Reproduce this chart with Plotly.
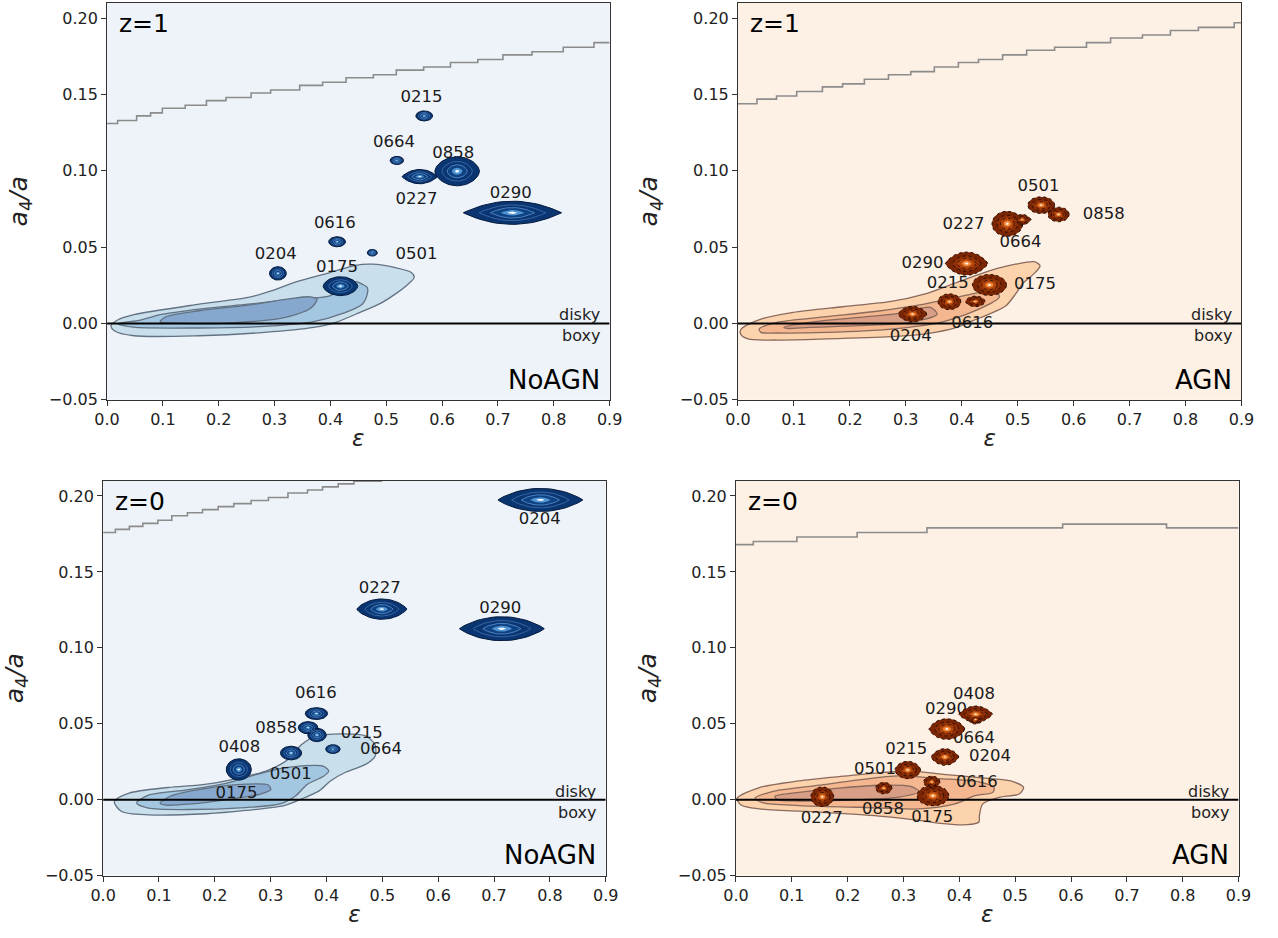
import numpy as np
import plotly.graph_objects as go

FONT = "DejaVu Sans"

# ---------------- data: axes ----------------
X_TICKS = [0.0, 0.1, 0.2, 0.3, 0.4, 0.5, 0.6, 0.7, 0.8, 0.9]
Y_TICKS = [-0.05, 0.0, 0.05, 0.10, 0.15, 0.20]

# ---------------- data: upper boundary (staircase) ----------------
TL_BND_X = [0.0, 0.019, 0.053, 0.078, 0.099, 0.140, 0.178, 0.213, 0.258, 0.293, 0.345, 0.386,
            0.428, 0.477, 0.518, 0.567, 0.615, 0.664, 0.709, 0.761, 0.817, 0.872, 0.9]
TL_BND_Y = [0.131, 0.133, 0.136, 0.138, 0.141, 0.143, 0.146, 0.148, 0.151, 0.153, 0.156, 0.158,
            0.161, 0.163, 0.166, 0.168, 0.171, 0.173, 0.176, 0.178, 0.181, 0.184, 0.184]
TR_BND_X = [0.0, 0.034, 0.069, 0.105, 0.151, 0.187, 0.226, 0.269, 0.309, 0.351, 0.394, 0.430,
            0.473, 0.516, 0.566, 0.623, 0.666, 0.723, 0.773, 0.823, 0.887, 0.9]
TR_BND_Y = [0.144, 0.147, 0.149, 0.152, 0.155, 0.157, 0.160, 0.163, 0.165, 0.168, 0.171, 0.173,
            0.176, 0.179, 0.181, 0.184, 0.187, 0.189, 0.192, 0.194, 0.197, 0.197]
BL_BND_X = [0.0, 0.022, 0.047, 0.071, 0.098, 0.123, 0.151, 0.178, 0.206, 0.234, 0.265, 0.296,
            0.331, 0.366, 0.393, 0.421, 0.449, 0.50]
BL_BND_Y = [0.176, 0.178, 0.180, 0.182, 0.184, 0.187, 0.189, 0.191, 0.193, 0.195, 0.197, 0.199,
            0.202, 0.204, 0.206, 0.208, 0.2098, 0.2098]
BR_BND_X = [0.0, 0.031, 0.109, 0.217, 0.342, 0.585, 0.771, 0.9]
BR_BND_Y = [0.168, 0.170, 0.173, 0.176, 0.179, 0.1815, 0.179, 0.179]

# ---------------- data: population density contours (eps, a4/a) ----------------
TL_KDE_OUTER = [(0.007, -0.0015), (0.013, -0.0048), (0.048, -0.0081), (0.165, -0.0081), (0.282, -0.0059),
                (0.370, -0.0026), (0.410, 0.0007), (0.445, 0.006), (0.487, 0.0126), (0.516, 0.0192),
                (0.539, 0.0257), (0.550, 0.0301), (0.545, 0.0334), (0.516, 0.0366), (0.475, 0.0388),
                (0.445, 0.0381), (0.399, 0.0333), (0.340, 0.0274), (0.294, 0.0213), (0.253, 0.0170),
                (0.165, 0.0126), (0.048, 0.0057), (0.019, 0.0022)]
TL_KDE_MID = [(0.019, -0.0003), (0.047, -0.0025), (0.165, -0.003), (0.282, -0.002), (0.370, 0.0011),
              (0.422, 0.0065), (0.457, 0.0126), (0.466, 0.0192), (0.466, 0.0235), (0.457, 0.0257),
              (0.445, 0.0274), (0.399, 0.0181), (0.340, 0.0159), (0.253, 0.0126), (0.165, 0.0094),
              (0.095, 0.0057), (0.060, 0.0022)]
TL_KDE_IN = [(0.095, 0.0011), (0.136, 0.0), (0.223, 0.0004), (0.311, 0.0033), (0.364, 0.0098),
             (0.376, 0.0157), (0.364, 0.0174), (0.329, 0.0163), (0.253, 0.0120), (0.165, 0.0083),
             (0.106, 0.0044)]

TR_KDE_OUTER = [(0.0047, -0.0070), (0.0058, -0.0037), (0.041, 0.0028), (0.099, 0.0072), (0.187, 0.0109),
                (0.274, 0.0144), (0.333, 0.0192), (0.391, 0.0268), (0.449, 0.0344), (0.496, 0.0388),
                (0.531, 0.0403), (0.540, 0.0377), (0.531, 0.0333), (0.508, 0.0257), (0.496, 0.0192),
                (0.479, 0.0116), (0.449, 0.0061), (0.420, 0.0018), (0.391, -0.0026), (0.333, -0.0070),
                (0.274, -0.0087), (0.158, -0.0102), (0.070, -0.0109), (0.018, -0.0102)]
TR_KDE_MID = [(0.038, -0.0037), (0.070, 0.0007), (0.158, 0.0044), (0.245, 0.0078), (0.333, 0.0126),
              (0.403, 0.0181), (0.461, 0.0214), (0.467, 0.0170), (0.449, 0.0126), (0.409, 0.0061),
              (0.362, 0.0007), (0.274, -0.0037), (0.158, -0.0059), (0.070, -0.0063), (0.041, -0.0059)]
TR_KDE_IN = [(0.082, -0.0026), (0.128, 0.0007), (0.216, 0.0039), (0.292, 0.0068), (0.344, 0.0105),
             (0.356, 0.0061), (0.309, 0.0007), (0.216, -0.0015), (0.128, -0.0026), (0.088, -0.0033)]

BL_KDE_OUTER = [(0.020, -0.0013), (0.0465, 0.0043), (0.116, 0.0080), (0.185, 0.0102), (0.255, 0.0152),
                (0.296, 0.0195), (0.331, 0.0264), (0.355, 0.0361), (0.380, 0.0416), (0.428, 0.0433),
                (0.470, 0.0420), (0.487, 0.0361), (0.487, 0.0286), (0.470, 0.0232), (0.435, 0.0182),
                (0.407, 0.0123), (0.387, 0.0058), (0.352, 0.0), (0.324, -0.0039), (0.255, -0.0071),
                (0.185, -0.0093), (0.081, -0.0100), (0.033, -0.0078)]
BL_KDE_MID = [(0.060, -0.0022), (0.081, 0.0030), (0.151, 0.0065), (0.220, 0.0108), (0.269, 0.0160),
              (0.324, 0.0210), (0.394, 0.0221), (0.404, 0.0188), (0.394, 0.0152), (0.366, 0.0102),
              (0.345, 0.0026), (0.317, -0.0028), (0.255, -0.0052), (0.151, -0.0065), (0.081, -0.0056)]
BL_KDE_IN = [(0.102, -0.0022), (0.123, 0.0026), (0.185, 0.0074), (0.255, 0.0102), (0.296, 0.0097),
             (0.300, 0.0065), (0.282, 0.0037), (0.227, 0.0004), (0.158, -0.0028), (0.109, -0.0035)]

BR_KDE_OUTER = [(0.002, 0.0009), (0.042, 0.0080), (0.113, 0.0123), (0.185, 0.0152), (0.256, 0.0177),
                (0.313, 0.0188), (0.371, 0.0167), (0.435, 0.0145), (0.492, 0.0123), (0.515, 0.0080),
                (0.507, 0.0037), (0.471, 0.0015), (0.442, -0.0028), (0.436, -0.0104), (0.435, -0.0147),
                (0.414, -0.0165), (0.371, -0.0158), (0.328, -0.0136), (0.256, -0.0108), (0.149, -0.0082),
                (0.042, -0.0061), (0.009, -0.0035)]
BR_KDE_MID = [(0.034, 0.0009), (0.063, 0.0052), (0.149, 0.0095), (0.220, 0.0130), (0.292, 0.0156),
              (0.363, 0.0139), (0.435, 0.0117), (0.462, 0.0080), (0.460, 0.0048), (0.428, 0.0026),
              (0.392, -0.0028), (0.328, -0.0061), (0.220, -0.0050), (0.113, -0.0039), (0.049, -0.0022)]
BR_KDE_IN = [(0.070, 0.0022), (0.113, 0.0048), (0.185, 0.0076), (0.256, 0.0095), (0.313, 0.0087),
             (0.328, 0.0052), (0.292, 0.0017), (0.220, 0.0), (0.113, -0.0009), (0.074, 0.0)]

# ---------------- data: individual galaxies (centre, spread, shape) ----------------
TL_ID = ["0215", "0664", "0227", "0858", "0290", "0616", "0501", "0204", "0175"]
TL_EPS = [0.568, 0.519, 0.560, 0.627, 0.726, 0.412, 0.475, 0.306, 0.418]
TL_A4 = [0.136, 0.1068, 0.0962, 0.0997, 0.0725, 0.0535, 0.0463, 0.0328, 0.0244]
TL_SEPS = [0.015, 0.012, 0.032, 0.040, 0.088, 0.015, 0.009, 0.015, 0.031]
TL_SA4 = [0.0033, 0.0027, 0.0047, 0.0095, 0.0076, 0.0033, 0.0022, 0.0044, 0.0062]
TL_PEAK = [0.5, 0.5, 0.9, 0.6, 1.0, 0.5, 0.5, 0.5, 0.6]
TL_LAB = ["0215", "0664", "0227", "0858", "0290", "0616", "0501", "0204", "0175"]
TL_LAB_EPS = [0.563, 0.514, 0.554, 0.620, 0.723, 0.408, 0.554, 0.302, 0.412]
TL_LAB_A4 = [0.148, 0.118, 0.0807, 0.111, 0.085, 0.0655, 0.0452, 0.0452, 0.0366]

TR_ID = ["0501", "0858", "0227", "0664", "0290", "0175", "0215", "0616", "0204"]
TR_EPS = [0.542, 0.573, 0.4815, 0.508, 0.4086, 0.4495, 0.378, 0.4243, 0.312]
TR_A4 = [0.0775, 0.0714, 0.0653, 0.068, 0.0392, 0.0252, 0.0142, 0.0144, 0.0061]
TR_SEPS = [0.024, 0.019, 0.0275, 0.016, 0.038, 0.0305, 0.0205, 0.0175, 0.0255]
TR_SA4 = [0.0055, 0.0048, 0.0082, 0.0035, 0.0076, 0.0069, 0.0052, 0.0035, 0.0051]
TR_PEAK = [0.5, 0.5, 0.5, 0.9, 0.8, 0.5, 0.5, 0.6, 0.7]
TR_LAB = ["0501", "0858", "0227", "0664", "0290", "0215", "0175", "0616", "0204"]
TR_LAB_EPS = [0.537, 0.654, 0.403, 0.505, 0.330, 0.375, 0.531, 0.419, 0.309]
TR_LAB_A4 = [0.0892, 0.0714, 0.0644, 0.0529, 0.0392, 0.0261, 0.0252, -0.0004, -0.0087]

BL_ID = ["0204", "0227", "0290", "0616", "0858", "0215", "0664", "0501", "0408"]
BL_EPS = [0.783, 0.499, 0.714, 0.382, 0.367, 0.383, 0.4115, 0.3365, 0.243]
BL_A4 = [0.1974, 0.1255, 0.1126, 0.0567, 0.0474, 0.0426, 0.0333, 0.0307, 0.0199]
BL_SEPS = [0.076, 0.045, 0.076, 0.020, 0.0175, 0.0165, 0.013, 0.019, 0.0225]
BL_SA4 = [0.0076, 0.0067, 0.0079, 0.0039, 0.004, 0.0044, 0.0029, 0.0045, 0.007]
BL_PEAK = [0.9, 0.8, 0.9, 0.5, 0.5, 0.5, 0.5, 0.5, 0.5]
BL_LAB = ["0204", "0227", "0290", "0616", "0858", "0215", "0664", "0501", "0408", "0175"]
BL_LAB_EPS = [0.782, 0.4955, 0.711, 0.381, 0.310, 0.463, 0.4975, 0.336, 0.244, 0.239]
BL_LAB_A4 = [0.184, 0.1385, 0.1255, 0.0697, 0.0465, 0.0433, 0.0325, 0.0162, 0.0344, 0.0041]

BR_ID = ["0408", "0664", "0290", "0204", "0215", "0858", "0616", "0175", "0227"]
BR_EPS = [0.4293, 0.429, 0.3777, 0.3742, 0.3076, 0.2647, 0.3506, 0.3527, 0.1545]
BR_A4 = [0.0563, 0.0528, 0.0465, 0.0281, 0.0195, 0.0076, 0.0117, 0.0026, 0.0019]
BR_SEPS = [0.0305, 0.012, 0.032, 0.025, 0.023, 0.0145, 0.0145, 0.0285, 0.0205]
BR_SA4 = [0.0054, 0.003, 0.0068, 0.0055, 0.0058, 0.0038, 0.0038, 0.0067, 0.0065]
BR_PEAK = [0.9, 0.5, 0.7, 0.8, 0.6, 0.5, 0.5, 0.5, 0.5]
BR_LAB = ["0408", "0290", "0664", "0215", "0204", "0501", "0616", "0858", "0175", "0227"]
BR_LAB_EPS = [0.4264, 0.3763, 0.4264, 0.3048, 0.455, 0.249, 0.4314, 0.2633, 0.3513, 0.1538]
BR_LAB_A4 = [0.0690, 0.0593, 0.0398, 0.0325, 0.0281, 0.0195, 0.0113, -0.0067, -0.0121, -0.0126]

PANEL_Z = ["z=1", "z=1", "z=0", "z=0"]
PANEL_MODEL = ["NoAGN", "AGN", "NoAGN", "AGN"]

# ---------------- styles ----------------
BLUE = dict(bg="#eef3fa",
            kde=["#c9dfec", "#a3c6e1", "#86a8cf"], kde_line="#627282",
            blob=[("#0b3571", "#031a3d", "solid", 1.0), ("rgba(0,0,0,0)", "#3d72b3", "solid", 0.8),
                  ("#0f4282", "#5a93cf", "solid", 0.8), ("#4f93d2", None, None, 0), ("#f2fafe", None, None, 0)])
ORANGE = dict(bg="#fdf0e4",
              kde=["#fcd3ad", "#f4b78f", "#d99e86"], kde_line="#8a6a5c",
              blob=[("#7a2605", "#240800", "dot", 1.0), ("#8f3007", "#240800", "dot", 0.9),
                    ("#b4460c", "#3a1000", "dot", 0.9), ("#ef8a3c", None, None, 0), ("#fff1dd", None, None, 0)])
BLOB_SCALE = [1.0, 0.68, 0.45, 0.24, 0.1]

DOMAINS = [
    ([96 / 1278, 609 / 1278], [1 - 404 / 938, 1 - 3 / 938]),
    ([740 / 1278, 1254 / 1278], [1 - 404 / 938, 1 - 3 / 938]),
    ([92 / 1278, 605 / 1278], [1 - 885 / 938, 1 - 486 / 938]),
    ([738 / 1278, 1251 / 1278], [1 - 885 / 938, 1 - 486 / 938]),
]

panels = [
    dict(bx=TL_BND_X, by=TL_BND_Y, kde=[TL_KDE_OUTER, TL_KDE_MID, TL_KDE_IN],
         eps=TL_EPS, a4=TL_A4, se=TL_SEPS, sa=TL_SA4, pk=TL_PEAK,
         lab=TL_LAB, lx=TL_LAB_EPS, ly=TL_LAB_A4, sty=BLUE),
    dict(bx=TR_BND_X, by=TR_BND_Y, kde=[TR_KDE_OUTER, TR_KDE_MID, TR_KDE_IN],
         eps=TR_EPS, a4=TR_A4, se=TR_SEPS, sa=TR_SA4, pk=TR_PEAK,
         lab=TR_LAB, lx=TR_LAB_EPS, ly=TR_LAB_A4, sty=ORANGE),
    dict(bx=BL_BND_X, by=BL_BND_Y, kde=[BL_KDE_OUTER, BL_KDE_MID, BL_KDE_IN],
         eps=BL_EPS, a4=BL_A4, se=BL_SEPS, sa=BL_SA4, pk=BL_PEAK,
         lab=BL_LAB, lx=BL_LAB_EPS, ly=BL_LAB_A4, sty=BLUE),
    dict(bx=BR_BND_X, by=BR_BND_Y, kde=[BR_KDE_OUTER, BR_KDE_MID, BR_KDE_IN],
         eps=BR_EPS, a4=BR_A4, se=BR_SEPS, sa=BR_SA4, pk=BR_PEAK,
         lab=BR_LAB, lx=BR_LAB_EPS, ly=BR_LAB_A4, sty=ORANGE),
]


def blob_outline(cx, cy, hx, hy, peak, s, n=64):
    t = np.linspace(0, 2 * np.pi, n)
    st = np.sin(t)
    x = cx + s * hx * np.cos(t)
    y = cy + s * hy * np.sign(st) * np.abs(st) ** (2 * peak)
    return list(x) + [None], list(y) + [None]


fig = go.Figure()
layout_axes = {}
shapes = []
annotations = []

for i, p in enumerate(panels):
    k = "" if i == 0 else str(i + 1)
    xa, ya = "x" + k, "y" + k
    sty = p["sty"]
    xd, yd = DOMAINS[i]
    layout_axes["xaxis" + k] = dict(
        domain=xd, anchor=ya, range=[0, 0.9], tickvals=X_TICKS, tickformat=".1f",
        showgrid=False, zeroline=False, showline=True, mirror=True, linecolor="#333",
        linewidth=1, ticks="outside", ticklen=5, tickcolor="#333",
        tickfont=dict(family=FONT, size=16, color="#222"),
        title=dict(text="<i>ε</i>", font=dict(family=FONT, size=23, color="#222"), standoff=2))
    layout_axes["yaxis" + k] = dict(
        domain=yd, anchor=xa, range=[-0.05, 0.21], tickvals=Y_TICKS, tickformat=".2f",
        showgrid=False, zeroline=False, showline=True, mirror=True, linecolor="#333",
        linewidth=1, ticks="outside", ticklen=5, tickcolor="#333",
        tickfont=dict(family=FONT, size=16, color="#222"),
        title=dict(text="<i>a</i><sub>4</sub><i>/a</i>", font=dict(family=FONT, size=25, color="#222"),
                   standoff=14))
    shapes.append(dict(type="rect", xref=xa + " domain", yref=ya + " domain", x0=0, x1=1, y0=0, y1=1,
                       fillcolor=sty["bg"], line=dict(width=0), layer="below"))

    # population density contours
    for lvl, poly in enumerate(p["kde"]):
        px = [q[0] for q in poly] + [poly[0][0]]
        py = [q[1] for q in poly] + [poly[0][1]]
        fig.add_trace(go.Scatter(x=px, y=py, xaxis=xa, yaxis=ya, mode="lines", fill="toself",
                                 fillcolor=sty["kde"][lvl], line=dict(color=sty["kde_line"], width=1.3,
                                                                       shape="spline", smoothing=0.8),
                                 hoverinfo="skip"))
    # staircase upper boundary
    fig.add_trace(go.Scatter(x=p["bx"], y=p["by"], xaxis=xa, yaxis=ya, mode="lines",
                             line=dict(color="#8c8c8c", width=1.6, shape="hv"), hoverinfo="skip"))
    # disky / boxy divider
    fig.add_trace(go.Scatter(x=[0, 0.9], y=[0, 0], xaxis=xa, yaxis=ya, mode="lines",
                             line=dict(color="black", width=2), hoverinfo="skip"))
    # galaxy labels (beneath the galaxy contours)
    fig.add_trace(go.Scatter(x=p["lx"], y=p["ly"], text=p["lab"], xaxis=xa, yaxis=ya, mode="text",
                             textposition="middle center",
                             textfont=dict(family=FONT, size=16.5, color="#1a1a1a"), hoverinfo="skip"))
    # galaxy contour blobs
    for lvl, s in enumerate(BLOB_SCALE):
        bx, by = [], []
        for cx, cy, hx, hy, pk in zip(p["eps"], p["a4"], p["se"], p["sa"], p["pk"]):
            ox, oy = blob_outline(cx, cy, hx, hy, pk, s)
            bx += ox
            by += oy
        fill, lc, dash, lw = sty["blob"][lvl]
        line = dict(width=0) if lc is None else dict(color=lc, width=lw, dash=dash)
        fig.add_trace(go.Scatter(x=bx, y=by, xaxis=xa, yaxis=ya, mode="lines", fill="toself",
                                 fillcolor=fill, line=line, hoverinfo="skip"))

    annotations += [
        dict(text=PANEL_Z[i], xref=xa + " domain", yref=ya + " domain", x=0.02, y=0.99,
             xanchor="left", yanchor="top", showarrow=False, font=dict(family=FONT, size=25, color="black")),
        dict(text=PANEL_MODEL[i], xref=xa + " domain", yref=ya + " domain", x=0.985, y=0.008,
             xanchor="right", yanchor="bottom", showarrow=False, font=dict(family=FONT, size=26, color="black")),
        dict(text="disky", xref=xa + " domain", yref=ya, x=0.985, y=0, xanchor="right", yanchor="bottom",
             yshift=-3, showarrow=False, font=dict(family=FONT, size=16, color="#222")),
        dict(text="boxy", xref=xa + " domain", yref=ya, x=0.985, y=0, xanchor="right", yanchor="top",
             yshift=-1, showarrow=False, font=dict(family=FONT, size=16, color="#222")),
    ]

fig.update_layout(width=1278, height=938, margin=dict(l=0, r=0, t=0, b=0),
                  paper_bgcolor="white", plot_bgcolor="white", showlegend=False,
                  font=dict(family=FONT), shapes=shapes, annotations=annotations, **layout_axes)

fig.write_html("out.html")
